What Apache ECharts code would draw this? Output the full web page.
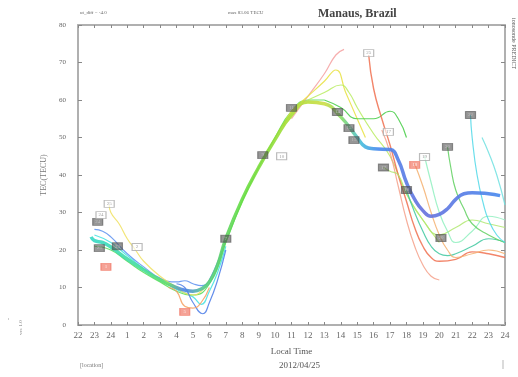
<!DOCTYPE html>
<html>
<head>
<meta charset="utf-8">
<script src="https://cdn.jsdelivr.net/npm/echarts@6/dist/echarts.min.js"></script>
<style>
html, body { margin: 0; padding: 0; background: #fff; }
#chart { width: 518px; height: 377px; }
</style>
</head>
<body>
<div id="chart"></div>
<script>
// 时间轴：-2 .. 24 (本地时间)，标签按 24 小时制折回
var hourMin = -2;
var hourMax = 24;
var tecMax = 80;

// 实测 TEC（粗线）
var obsTec = [[-1.2,23.5],[-1,22.5],[-0.5,22],[0,20.8],[1,17.6],[2,14.7],[3,12],[4,10],[4.5,9.3],[5,9],[5.5,9.6],[6,11.5],[6.5,16],[7,23],[8,33.5],[9,42],[10,49.5],[11,56],[12,59.5],[13,59],[14,55.5],[15,50],[15.5,47.5],[16,47],[17,46.8],[17.5,44],[18,38],[18.5,33.5],[19,30.5],[19.5,29],[20,29.5],[20.5,31],[21,33.5],[21.5,35],[22,35.3],[23,35],[23.7,34.5]];

// 预测曲线（细线）
var fcBlueL = [[-1,25.5],[-0.5,25],[0,23.5],[1,19],[2,15.5],[3,12.5],[4,11.5],[4.5,11.8],[5,11],[5.5,10.5],[6,12],[7,23]];
var fcCyanL = [[-1,24],[0,22],[1,18.5],[2,15],[3,12],[4,9.5],[5,7.5],[5.5,5.5],[6,9],[6.5,14],[7,21]];
var fcGreenL = [[-1,21],[0,20],[1,17],[2,14],[3,11.5],[4,9],[5,8],[6,11],[7,22],[8,33],[9,42],[10,50],[11,57],[12,60],[13,60]];
var fcYellowL = [[-0.1,32],[0,30],[0.5,27],[1,23],[1.5,20],[2,17],[3,13],[4,10],[4.5,8.5],[5,8],[5.5,9],[6,12]];
var fcBlueDip = [[4,11],[4.5,10],[5,6],[5.6,3],[6,6],[6.5,12],[7,20]];
var fcOrangeDip = [[3.5,10],[4,9],[4.5,5],[5,4.5],[5.5,6],[6,10]];
var fcPinkUp = [[11,55],[12,61],[13,67],[13.7,72],[14.2,73.5]];
var fcYellowPeak = [[10.5,53],[11,57],[12,61],[13,65],[13.7,68],[14.3,62],[15,55],[15.5,50]];
var fcLimePeak = [[12,60],[13,62],[14,64],[14.5,62],[15,58],[16,51],[17,45],[18,35],[19,28],[20,22]];
var fcGreenPeak = [[13,60],[14,58],[15,55],[16,55],[17,57],[17.5,55],[18,50]];
var fcRedDrop = [[15.7,72],[16,63],[16.5,55],[17,48],[17.5,40],[18,33],[18.5,26],[19,21],[19.5,18],[20,17],[21,17.5],[22,19.5],[23,19],[24,18]];
var fcSalmonDrop = [[16.5,52],[17,46],[17.5,37],[18,28],[18.5,21],[19,16],[19.5,13],[20,12]];
var fcLimeFan = [[16.6,42],[17,41],[17.5,40],[18,35],[19,28],[20,24],[21,26],[22,28],[23,27],[24,26]];
var fcTealFan = [[18,36],[18.5,30],[19,25],[19.5,21],[20,19],[20.5,18.5],[21,19],[22,21],[23,23],[24,22]];
var fcOrangeFan = [[18.5,43],[19,37],[19.5,30],[20,24],[20.5,20],[21,18],[22,19],[23,20],[24,19]];
var fcMintFan = [[19.1,45],[19.5,38],[20,30],[20.5,25],[21,22],[22,25],[23,29],[24,28]];
var fcGreenFan = [[20.5,47.5],[20.7,42],[21,36],[21.5,31],[22,27],[23,24],[24,22]];
var fcCyanFan = [[21.9,56],[22,50],[22.3,40],[22.7,32],[23,28],[23.5,24],[24,22]];
var fcAquaFan = [[22.6,50],[23,46],[23.5,40],[24,32]];

// 曲线起点标记
var darkTags = [[-0.7,20.5,'25'],[-0.8,27.5,'24'],[0.4,21,'23'],[9.25,45.3,'9'],[11,57.9,'11'],[13.8,56.8,'14'],[14.5,52.5,'15'],[14.8,49.3,'15'],[16.6,42,'17'],[18,36,'18'],[20.1,23.2,'20'],[20.5,47.5,'20'],[21.9,56,'22'],[7,23,'7']];
var lightTags = [[-0.1,32.3,'25'],[-0.6,29.3,'24'],[1.6,20.8,'2'],[10.4,45,'10'],[15.7,72.5,'25'],[16.9,51.5,'17'],[19.1,44.8,'19']];
var redTags = [[-0.3,15.5,'1'],[4.5,3.5,'5'],[18.5,42.7,'18']];

var myChart = echarts.init(document.getElementById('chart'), null, {renderer: 'canvas'});
var serif = '"Liberation Serif", "DejaVu Serif", serif';

function thin(data, color, width) {
	return {
		type: 'line',
		data: data,
		smooth: true,
		showSymbol: false,
		silent: true,
		lineStyle: {color: color, width: width || 1.2, opacity: 0.85},
		z: 2
	};
}

function tags(data, fill, border, textColor) {
	return {
		type: 'scatter',
		data: data,
		symbol: 'rect',
		symbolSize: [10, 7],
		itemStyle: {color: fill, borderColor: border, borderWidth: 1},
		label: {show: true, position: 'inside', fontSize: 5, color: textColor, fontFamily: serif,
			formatter: function (p) { return p.data[2]; }},
		z: 5
	};
}

var axisGray = '#b0b0b0';
var xAxisBase = {
	type: 'value', min: hourMin, max: hourMax, interval: 1,
	axisLine: {onZero: false, lineStyle: {color: axisGray, width: 2}},
	axisTick: {inside: true, length: 3, lineStyle: {color: '#888'}},
	splitLine: {show: false}
};
var yAxisBase = {
	type: 'value', min: 0, max: tecMax, interval: 10,
	axisLine: {onZero: false, lineStyle: {color: axisGray, width: 2}},
	axisTick: {inside: true, length: 4, lineStyle: {color: '#888'}},
	splitLine: {show: false}
};

var option = {
	animation: false,
	backgroundColor: '#fff',
	title: {
		text: 'Manaus, Brazil',
		left: 313, top: 3,
		textStyle: {fontFamily: serif, fontSize: 12, fontWeight: 'bold', color: '#444'}
	},
	grid: {left: 78, right: 13, top: 25, bottom: 52},
	xAxis: [
		Object.assign({}, xAxisBase, {
			position: 'bottom',
			name: 'Local Time', nameLocation: 'middle', nameGap: 22,
			nameTextStyle: {fontFamily: serif, fontSize: 9, color: '#555'},
			axisLabel: {fontFamily: serif, fontSize: 9, color: '#666', margin: 6,
				formatter: function (v) { return v <= 0 ? v + 24 : v; }}
		}),
		Object.assign({}, xAxisBase, {position: 'top', axisLabel: {show: false}})
	],
	yAxis: [
		Object.assign({}, yAxisBase, {
			position: 'left',
			name: 'TEC(TECU)', nameLocation: 'middle', nameGap: 30,
			nameTextStyle: {fontFamily: serif, fontSize: 8, color: '#777'},
			axisLabel: {fontFamily: serif, fontSize: 7, color: '#666', margin: 12}
		}),
		Object.assign({}, yAxisBase, {position: 'right', axisLabel: {show: false}})
	],
	graphic: [
		{type: 'text', left: 80, top: 10, style: {text: 'ut_diff = -4.0', font: '5px ' + serif, fill: '#666'}},
		{type: 'text', left: 228, top: 10, style: {text: 'max 83.06 TECU', font: '5px ' + serif, fill: '#666'}},
		{type: 'text', left: 80, top: 362, style: {text: '[location]', font: '6px ' + serif, fill: '#777'}},
		{type: 'text', left: 279, top: 361, style: {text: '2012/04/25', font: '9px ' + serif, fill: '#555'}},
		{type: 'text', left: 502, top: 359, style: {text: '|', font: '10px ' + serif, fill: '#777'}},
		{type: 'text', x: 517, y: 18, rotation: -Math.PI / 2, style: {text: 'ionosonde PREDICT', font: '6px ' + serif, fill: '#555'}},
		{type: 'text', x: 18, y: 335, rotation: Math.PI / 2, style: {text: 'ver. 1.0', font: '5px ' + serif, fill: '#777'}},
		{type: 'text', x: 5, y: 320, rotation: Math.PI / 2, style: {text: '-', font: '6px ' + serif, fill: '#777'}}
	],
	series: [
		thin(fcBlueL, '#5a8ff0'),
		thin(fcCyanL, '#3fe0e0'),
		thin(fcGreenL, '#55dd55'),
		thin(fcYellowL, '#f0e060'),
		thin(fcBlueDip, '#4a7be8'),
		thin(fcOrangeDip, '#f5a060'),
		thin(fcPinkUp, '#f4a0a0'),
		thin(fcYellowPeak, '#e8e040'),
		thin(fcLimePeak, '#b8ec60'),
		thin(fcGreenPeak, '#44cc44'),
		thin(fcRedDrop, '#f07050', 1.4),
		thin(fcSalmonDrop, '#f5a08a'),
		thin(fcLimeFan, '#b0e870'),
		thin(fcTealFan, '#40c8a0'),
		thin(fcOrangeFan, '#f5b070'),
		thin(fcMintFan, '#90f0c0'),
		thin(fcGreenFan, '#60d060'),
		thin(fcCyanFan, '#50d8e8'),
		thin(fcAquaFan, '#70e0e0'),
		{
			type: 'line',
			data: obsTec,
			smooth: true,
			showSymbol: false,
			silent: true,
			z: 3,
			lineStyle: {
				width: 3.5,
				opacity: 0.9,
				color: new echarts.graphic.LinearGradient(0, 0, 1, 0, [
					{offset: 0, color: '#35d8c8'},
					{offset: 0.13, color: '#44dd99'},
					{offset: 0.19, color: '#66dd66'},
					{offset: 0.23, color: '#4d80e8'},
					{offset: 0.28, color: '#55cc88'},
					{offset: 0.37, color: '#66dd44'},
					{offset: 0.49, color: '#aadd33'},
					{offset: 0.57, color: '#ccdd44'},
					{offset: 0.61, color: '#88dd66'},
					{offset: 0.66, color: '#44bbdd'},
					{offset: 0.70, color: '#4488ee'},
					{offset: 0.81, color: '#6670dd'},
					{offset: 1, color: '#4488ee'}
				])
			}
		},
		tags(darkTags, 'rgba(80,80,80,0.75)', 'rgba(80,80,80,0.75)', '#ccc'),
		tags(lightTags, 'rgba(255,255,255,0.8)', '#aaa', '#888'),
		tags(redTags, 'rgba(240,110,90,0.8)', 'rgba(240,110,90,0.8)', '#fff')
	]
};
// 显示图表
myChart.setOption(option);
</script>
</body>
</html>
